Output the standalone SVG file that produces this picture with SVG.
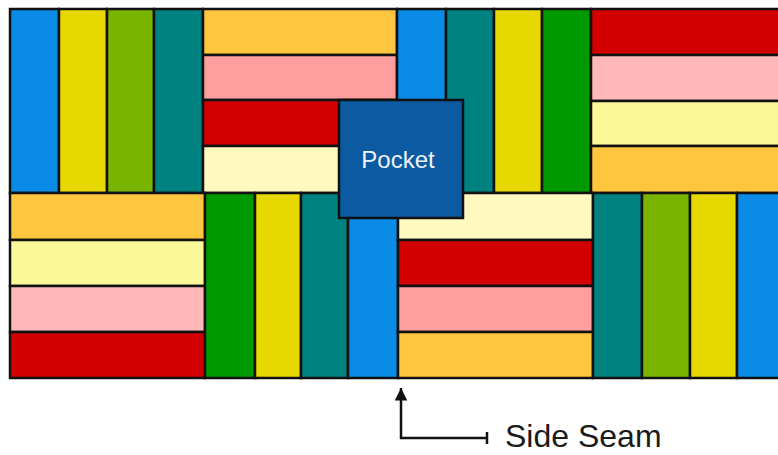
<svg xmlns="http://www.w3.org/2000/svg" width="778" height="455" viewBox="0 0 778 455">
<style>
.s rect{stroke:#111;stroke-width:2.5}
.bl{fill:#0A8CE6}.ye{fill:#E6D800}.li{fill:#78B400}.te{fill:#008380}.dg{fill:#009A00}
.or{fill:#FDC63E}.pk{fill:#FF9E9E}.lp{fill:#FFB8B8}.rd{fill:#D20000}.cr{fill:#FEF9BF}.ly{fill:#FBF899}
.pocket{fill:#0B5AA2}
.lbl{font-family:"Liberation Sans",Arial,sans-serif}
</style>
<defs>
<marker id="ah" viewBox="0 0 10 10" refX="10" refY="5" markerWidth="6" markerHeight="5" orient="auto" markerUnits="strokeWidth">
<path d="M0,0 L10,5 L0,10 z" fill="#111"/>
</marker>
</defs>
<rect x="0" y="0" width="778" height="455" fill="#fff"/>
<g class="s">
<g id="block-top-1">
<rect class="bl" x="10" y="9" width="49" height="184"/>
<rect class="ye" x="59" y="9" width="48" height="184"/>
<rect class="li" x="107" y="9" width="47" height="184"/>
<rect class="te" x="154" y="9" width="49" height="184"/>
</g>
<g id="block-top-2">
<rect class="or" x="203" y="9" width="194" height="46"/>
<rect class="pk" x="203" y="55" width="194" height="45"/>
<rect class="rd" x="203" y="100" width="194" height="46"/>
<rect class="cr" x="203" y="146" width="194" height="47"/>
</g>
<g id="block-top-3">
<rect class="bl" x="397" y="9" width="49" height="184"/>
<rect class="te" x="446" y="9" width="48" height="184"/>
<rect class="ye" x="494" y="9" width="48" height="184"/>
<rect class="dg" x="542" y="9" width="49" height="184"/>
</g>
<g id="block-top-4">
<rect class="rd" x="591" y="9" width="200" height="46"/>
<rect class="lp" x="591" y="55" width="200" height="46"/>
<rect class="ly" x="591" y="101" width="200" height="45"/>
<rect class="or" x="591" y="146" width="200" height="47"/>
</g>
<g id="block-bottom-1">
<rect class="or" x="10" y="193" width="195" height="47"/>
<rect class="ly" x="10" y="240" width="195" height="46"/>
<rect class="lp" x="10" y="286" width="195" height="46"/>
<rect class="rd" x="10" y="332" width="195" height="46"/>
</g>
<g id="block-bottom-2">
<rect class="dg" x="205" y="193" width="50" height="185"/>
<rect class="ye" x="255" y="193" width="46" height="185"/>
<rect class="te" x="301" y="193" width="47" height="185"/>
<rect class="bl" x="348" y="193" width="50" height="185"/>
</g>
<g id="block-bottom-3">
<rect class="cr" x="398" y="193" width="195" height="47"/>
<rect class="rd" x="398" y="240" width="195" height="46"/>
<rect class="pk" x="398" y="286" width="195" height="46"/>
<rect class="or" x="398" y="332" width="195" height="46"/>
</g>
<g id="block-bottom-4">
<rect class="te" x="593" y="193" width="49" height="185"/>
<rect class="li" x="642" y="193" width="48" height="185"/>
<rect class="ye" x="690" y="193" width="47" height="185"/>
<rect class="bl" x="737" y="193" width="54" height="185"/>
</g>
<g id="pocket">
<rect class="pocket" x="339" y="100" width="124" height="118"/>
<text class="lbl" x="398" y="168" font-size="24" fill="#EEF3F8" text-anchor="middle">Pocket</text>
</g>
</g>
<g id="connectors">
<path d="M401,439 L401,388" fill="none" stroke="#111" stroke-width="2.5" marker-end="url(#ah)"/>
<path d="M400,438 L487,438 M487,432 L487,444" fill="none" stroke="#111" stroke-width="2.5"/>
</g>
<g id="side-seam">
<text class="lbl" x="505" y="447" font-size="32" fill="#1a1a1a">Side Seam</text>
</g>
</svg>
